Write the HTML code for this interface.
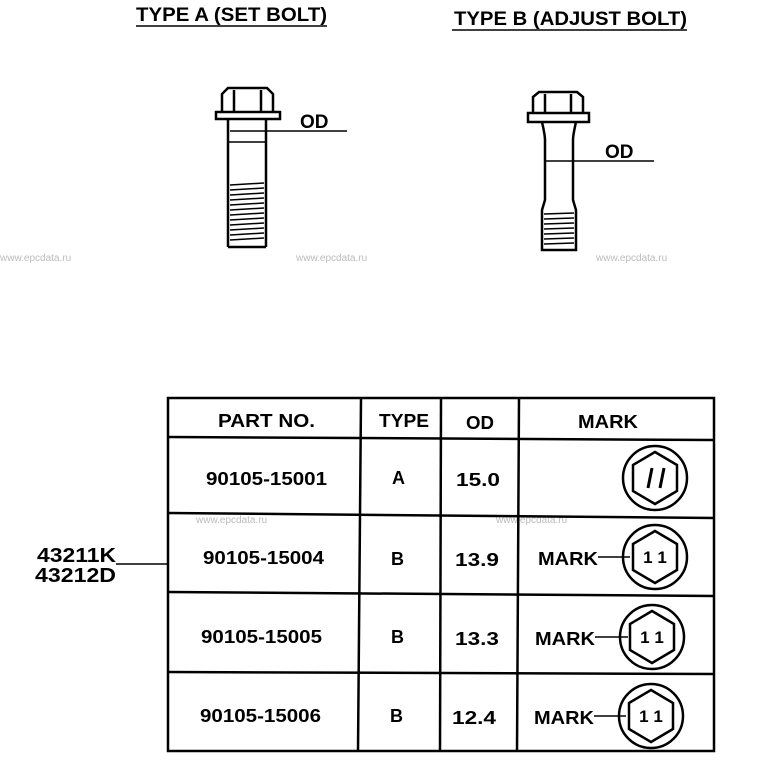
<!DOCTYPE html>
<html><head><style>html,body{margin:0;padding:0;background:#fff}svg{display:block}</style></head><body>
<svg width="777" height="761" viewBox="0 0 777 761" xmlns="http://www.w3.org/2000/svg" font-family="Liberation Sans, Arial, sans-serif" font-weight="bold">
<g fill="#000" font-size="19">
<text x="136" y="21" textLength="191" lengthAdjust="spacingAndGlyphs">TYPE A (SET BOLT)</text>
<text x="454" y="25" textLength="233" lengthAdjust="spacingAndGlyphs">TYPE B (ADJUST BOLT)</text>
</g>
<line x1="136" y1="26" x2="327" y2="26" stroke="#000" stroke-width="1.5"/>
<line x1="452" y1="30" x2="687" y2="30" stroke="#000" stroke-width="1.5"/>

<!-- Bolt A -->
<g stroke="#000" stroke-width="2.5" fill="none">
<path d="M222,112 L222,94 L228,88 L267,88 L273,94 L273,112"/>
<line x1="234" y1="90" x2="234" y2="112"/><line x1="261" y1="90" x2="261" y2="112"/>
<path d="M216,112 L280,112 L280,119 L216,119 Z"/>
<line x1="228" y1="119" x2="228" y2="247"/><line x1="266" y1="119" x2="266" y2="247"/>
<line x1="228" y1="247" x2="266" y2="247"/>
<line x1="228" y1="142" x2="266" y2="142" stroke-width="1.5"/>
</g>
<g stroke="#000" stroke-width="1.5">
<line x1="230" y1="131" x2="347" y2="131"/>
<line x1="230" y1="185" x2="264" y2="183"/><line x1="230" y1="190" x2="264" y2="188"/><line x1="230" y1="195" x2="264" y2="193"/><line x1="230" y1="200" x2="264" y2="198"/><line x1="230" y1="205" x2="264" y2="203"/><line x1="230" y1="210" x2="264" y2="208"/><line x1="230" y1="215" x2="264" y2="213"/><line x1="230" y1="220" x2="264" y2="218"/><line x1="230" y1="225" x2="264" y2="223"/><line x1="230" y1="230" x2="264" y2="228"/><line x1="230" y1="235" x2="264" y2="233"/><line x1="230" y1="240" x2="264" y2="238"/>
</g>
<text x="300" y="128" font-size="19">OD</text>

<!-- Bolt B -->
<g stroke="#000" stroke-width="2.5" fill="none">
<path d="M533,113 L533,97 L539,92 L577,92 L583,97 L583,113"/>
<line x1="545" y1="94" x2="545" y2="113"/><line x1="571" y1="94" x2="571" y2="113"/>
<path d="M528,113 L589,113 L589,122 L528,122 Z"/>
<path d="M542,122 Q545,135 545,140 L545,200 L542,210 L542,250 L576,250 L576,210 L573,200 L573,140 Q573,135 576,122"/>
</g>
<g stroke="#000" stroke-width="1.5">
<line x1="545" y1="161" x2="654" y2="161"/>
<line x1="544" y1="214" x2="574" y2="213"/><line x1="544" y1="219" x2="574" y2="218"/><line x1="544" y1="224" x2="574" y2="223"/><line x1="544" y1="229" x2="574" y2="228"/><line x1="544" y1="234" x2="574" y2="233"/><line x1="544" y1="239" x2="574" y2="238"/><line x1="544" y1="244" x2="574" y2="243"/>
</g>
<text x="605" y="158" font-size="19">OD</text>

<g fill="#bbb" font-weight="normal" font-size="10">
<text x="0" y="261">www.epcdata.ru</text><text x="296" y="261">www.epcdata.ru</text><text x="596" y="261">www.epcdata.ru</text>
<text x="196" y="523">www.epcdata.ru</text><text x="496" y="523">www.epcdata.ru</text>
</g>

<!-- Table -->
<g stroke="#000" stroke-width="2.5" fill="none">
<rect x="168" y="398" width="546" height="353"/>
<line x1="361" y1="398" x2="358" y2="751"/>
<line x1="441" y1="398" x2="440" y2="751"/>
<line x1="519" y1="398" x2="517" y2="751"/>
<line x1="168" y1="437" x2="714" y2="440"/>
<line x1="168" y1="513" x2="714" y2="518"/>
<line x1="168" y1="592" x2="714" y2="596"/>
<line x1="168" y1="672" x2="714" y2="674"/>
</g>
<g fill="#000" font-size="18" lengthAdjust="spacingAndGlyphs">
<text x="218" y="427" textLength="97" lengthAdjust="spacingAndGlyphs">PART NO.</text>
<text x="379" y="427" textLength="50" lengthAdjust="spacingAndGlyphs">TYPE</text>
<text x="466" y="429" textLength="28" lengthAdjust="spacingAndGlyphs">OD</text>
<text x="578" y="428" textLength="60" lengthAdjust="spacingAndGlyphs">MARK</text>
<text x="206" y="485" textLength="121" lengthAdjust="spacingAndGlyphs">90105-15001</text><text x="392" y="484">A</text><text x="456" y="486" textLength="44" lengthAdjust="spacingAndGlyphs">15.0</text>
<text x="203" y="564" textLength="121" lengthAdjust="spacingAndGlyphs">90105-15004</text><text x="391" y="565">B</text><text x="455" y="566" textLength="44" lengthAdjust="spacingAndGlyphs">13.9</text>
<text x="201" y="643" textLength="121" lengthAdjust="spacingAndGlyphs">90105-15005</text><text x="391" y="643">B</text><text x="455" y="645" textLength="44" lengthAdjust="spacingAndGlyphs">13.3</text>
<text x="200" y="722" textLength="121" lengthAdjust="spacingAndGlyphs">90105-15006</text><text x="390" y="722">B</text><text x="452" y="724" textLength="44" lengthAdjust="spacingAndGlyphs">12.4</text>
<text x="538" y="565" textLength="60" lengthAdjust="spacingAndGlyphs">MARK</text>
<text x="535" y="645" textLength="60" lengthAdjust="spacingAndGlyphs">MARK</text>
<text x="534" y="724" textLength="60" lengthAdjust="spacingAndGlyphs">MARK</text>
</g>
<g stroke="#000" stroke-width="1.5">
<line x1="598" y1="557" x2="630" y2="557"/>
<line x1="595" y1="637" x2="628" y2="637"/>
<line x1="594" y1="716" x2="626" y2="716"/>
<line x1="116" y1="564" x2="167" y2="564"/>
</g>
<g fill="#000" font-size="20">
<text x="37" y="562" textLength="79" lengthAdjust="spacingAndGlyphs">43211K</text>
<text x="35" y="582" textLength="81" lengthAdjust="spacingAndGlyphs">43212D</text>
</g>

<!-- marks -->
<g stroke="#000" stroke-width="2.5" fill="none">
<circle cx="655" cy="478" r="32"/><polygon points="655,452 677,465 677,491 655,504 633,491 633,465"/>
<circle cx="655" cy="557" r="32"/><polygon points="655,531 677,544 677,570 655,583 633,570 633,544"/>
<circle cx="652" cy="637" r="32"/><polygon points="652,611 674,624 674,650 652,663 630,650 630,624"/>
<circle cx="651" cy="716" r="32"/><polygon points="651,690 673,703 673,729 651,742 629,729 629,703"/>
</g>
<g stroke="#000" stroke-width="3">
<line x1="648" y1="488" x2="652" y2="468"/><line x1="660" y1="488" x2="664" y2="468"/>
</g>
<g fill="#000" font-size="17" text-anchor="middle">
<text x="655" y="563">1 1</text><text x="652" y="643">1 1</text><text x="651" y="722">1 1</text>
</g>
</svg>
</body></html>
